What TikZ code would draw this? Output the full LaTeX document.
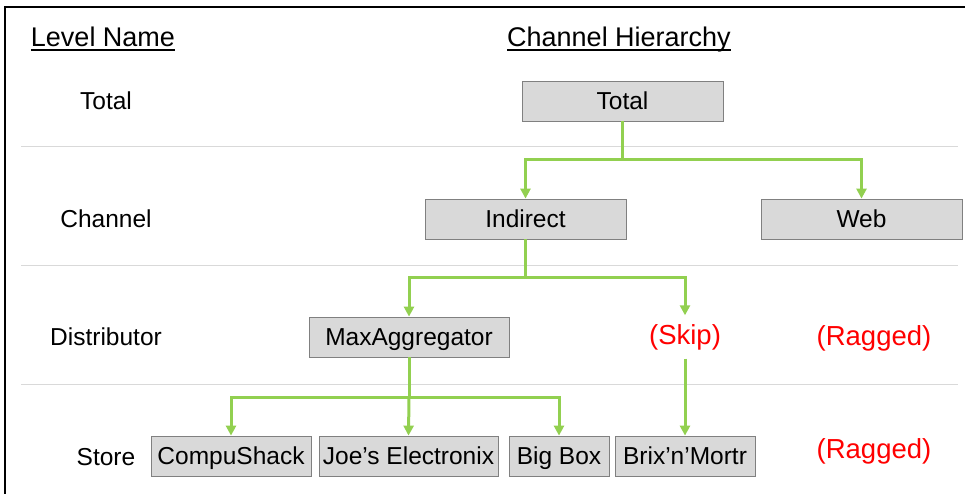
\documentclass[tikz,border=0pt]{standalone}
\usepackage{fontspec}
\setmainfont{Liberation Sans}
\usepackage{xcolor}
\usepackage{tikz}
\usetikzlibrary{arrows.meta,positioning}
\definecolor{boxgrey}{RGB}{217,217,217}
\definecolor{edgegrey}{RGB}{128,128,128}
\definecolor{rulegrey}{RGB}{217,217,217}
\definecolor{linkgreen}{RGB}{146,208,80}
\definecolor{skipred}{RGB}{255,0,0}
\tikzset{
  levelbox/.style={draw=edgegrey,fill=boxgrey,line width=0.8pt,
    minimum height=40pt,inner sep=0pt,text height=17.5pt,text depth=0pt,
    font=\fontsize{24.5}{28}\selectfont},
  levelname/.style={font=\fontsize{24.5}{28}\selectfont,
    text height=17.5pt,text depth=0pt},
  heading/.style={font=\fontsize{27}{30}\selectfont,inner xsep=0pt,anchor=base},
  redtext/.style={text=skipred,font=\fontsize{27.5}{30}\selectfont,
    text height=14.4pt,text depth=0pt},
  flow/.style={-{Triangle[length=10pt,width=10pt]},line width=3pt,draw=linkgreen},
  divider/.style={draw=rulegrey,line width=1pt},
  underbar/.style={line width=1.5pt}
}

\begin{document}
\begin{tikzpicture}[x=1pt,y=-1pt]
  \useasboundingbox (0,0) rectangle (968,494);
  % frame and row dividers
  \draw[line width=2pt] (5,494) -- (5,7) -- (965,7);
  \foreach \y in {147,265,384}
    \draw[divider] (21,\y) -- (958,\y);
  % column headings
  \node[heading] (levelhead) at (103,47) {Level Name};
  \node[heading] (hierhead) at (619,47) {Channel Hierarchy};
  \draw[underbar] ([yshift=-3pt]levelhead.base west) -- ([yshift=-3pt]levelhead.base east);
  \draw[underbar] ([yshift=-3pt]hierhead.base west) -- ([yshift=-3pt]hierhead.base east);
  % level names
  \node[levelname] (lvltotal) at (106,101) {Total};
  \node[levelname] (lvlchannel) at (106,219) {Channel};
  \node[levelname] (lvldist) at (106,337) {Distributor};
  \node[levelname] (lvlstore) at (106,457) {Store};
  % hierarchy
  \node[levelbox,minimum width=201pt] (total) at (622.5,101) {Total};
  \node[levelbox,minimum width=201pt] (indirect) at (525.5,219) {Indirect};
  \node[levelbox,minimum width=201pt] (web) at (861.5,219) {Web};
  \node[levelbox,minimum width=200pt] (maxagg) at (409,337) {MaxAggregator};
  \node[redtext,minimum height=43pt,inner sep=0pt] (skip) at (685,337) {(Skip)};
  \node[redtext] (raggeddist) at (874,338) {(Ragged)};
  \node[levelbox,minimum width=160pt] (compushack) at (231,456) {CompuShack};
  \node[levelbox,minimum width=179pt] (joes) at (408.5,456) {Joe's Electronix};
  \node[levelbox,minimum width=100pt] (bigbox) at (559,456) {Big Box};
  \node[levelbox,minimum width=140pt] (brix) at (685,456) {Brix’n’Mortr};
  \node[redtext] (raggedstore) at (874,451) {(Ragged)};
  % branch points
  \coordinate (split1) at (622.5,160);
  \coordinate (split2) at (525.5,277);
  \coordinate (split3) at (409,397);
  % connectors
  \draw[flow] (total.south) -- (split1) -| (indirect.north);
  \draw[flow] (split1) -| (web.north);
  \draw[flow] (indirect.south) -- (split2) -| (maxagg.north);
  \draw[flow] (split2) -| (skip.north);
  \draw[flow] (skip.south) -- (brix.north);
  \draw[flow] (maxagg.south) -- (split3) -| (compushack.north);
  \draw[flow] (split3) -- (joes.north);
  \draw[flow] (split3) -| (bigbox.north);
\end{tikzpicture}
\end{document}
